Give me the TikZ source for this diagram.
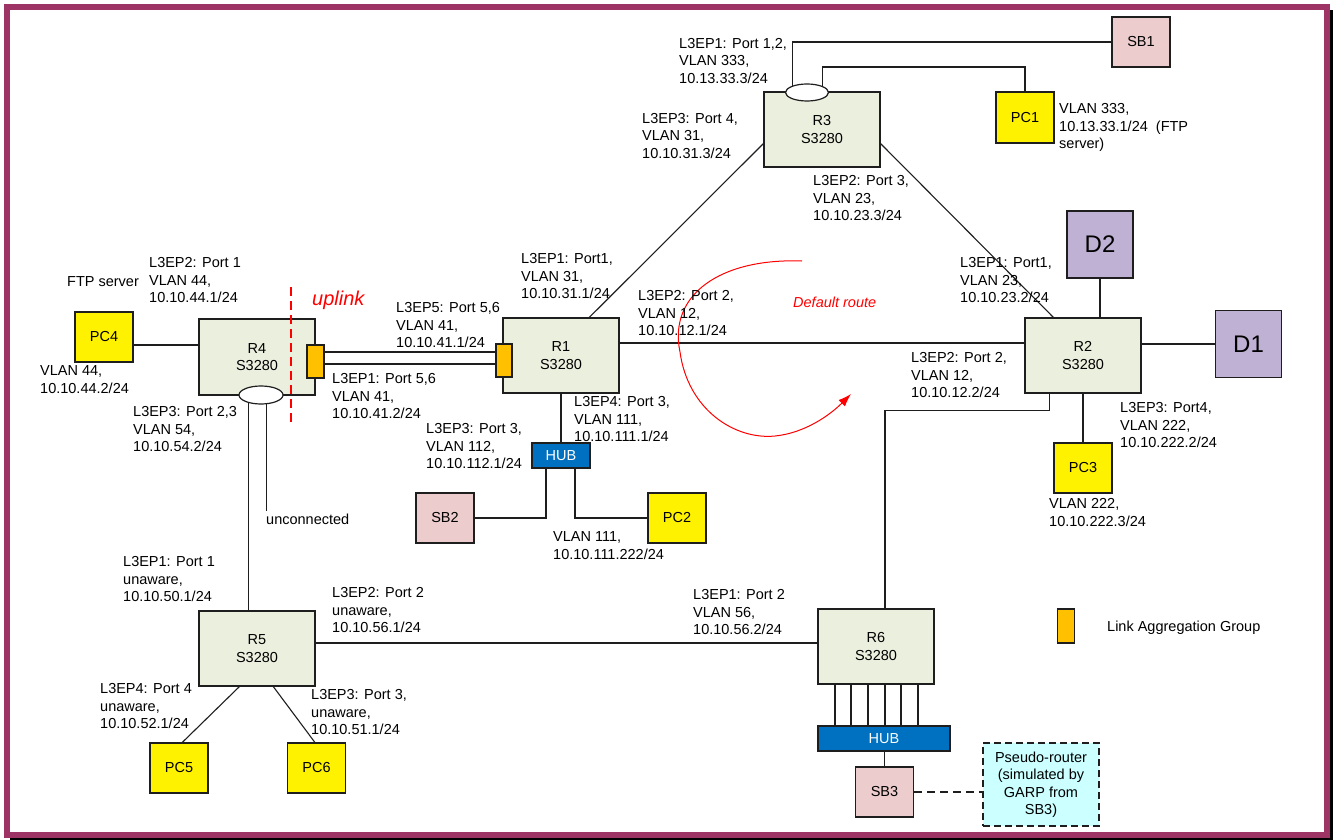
\documentclass[tikz,border=0pt]{standalone}
\usepackage{fontspec}
\setmainfont{Liberation Sans}
\usetikzlibrary{calc,shapes.geometric,arrows.meta}
\definecolor{frame}{RGB}{158,51,102}
\definecolor{rtr}{RGB}{235,239,222}
\definecolor{sbc}{RGB}{236,204,204}
\definecolor{devc}{RGB}{191,177,212}
\definecolor{hubc}{RGB}{0,112,192}
\definecolor{lagc}{RGB}{255,192,0}
\definecolor{pseudoc}{RGB}{204,255,255}
\definecolor{ln}{RGB}{30,30,30}
\definecolor{redc}{RGB}{255,0,0}
\begin{document}
\begin{tikzpicture}[x=1pt,y=-1pt,
  box/.style={draw=ln, line width=1.3pt, align=center, inner sep=0pt, font=\fontsize{14.5}{17.5}\selectfont},
  router/.style={box, fill=rtr, minimum width=116pt, minimum height=75pt},
  pcbox/.style={box, fill=yellow, minimum width=58pt, minimum height=50pt},
  sbbox/.style={box, fill=sbc, minimum width=58pt, minimum height=50pt},
  devbox/.style={box, fill=devc, minimum width=66pt, minimum height=67pt, font=\fontsize{24}{28}\selectfont},
  hubbox/.style={box, fill=hubc, text=white, minimum height=25pt},
  lagbox/.style={draw=ln, line width=1.2pt, fill=lagc, minimum width=16pt, minimum height=33pt, inner sep=0pt},
  portell/.style={ellipse, draw=ln, line width=1.2pt, fill=white, inner sep=0pt},
  lbl/.style={anchor=north west, align=left, inner sep=0pt, font=\fontsize{14.5}{17.5}\selectfont},
  wire/.style={draw=ln, line width=1.1pt},
  redlbl/.style={anchor=base west, inner sep=0pt, text=redc},
]
\useasboundingbox (0,0) rectangle (1333,840);
\fill[black] (10,10) rectangle (1333,840);
\draw[frame, line width=6pt, fill=white] (7,7) rectangle (1327,835);

% devices
\node[router] (R3) at (822,129.5) {R3\\S3280};
\node[router] (R1) at (561,355.5) {R1\\S3280};
\node[router, minimum height=76pt] (R4) at (257,357) {R4\\S3280};
\node[router] (R2) at (1083,355.5) {R2\\S3280};
\node[router] (R5) at (257,648.5) {R5\\S3280};
\node[router] (R6) at (876,646.5) {R6\\S3280};
\node[sbbox] (SB1) at (1141,42) {SB1};
\node[pcbox, minimum height=51pt] (PC1) at (1025,117.5) {PC1};
\node[pcbox] (PC4) at (104,337) {PC4};
\node[sbbox] (SB2) at (445,518) {SB2};
\node[pcbox] (PC2) at (677,518) {PC2};
\node[pcbox] (PC3) at (1083,468) {PC3};
\node[pcbox] (PC5) at (179,768) {PC5};
\node[pcbox] (PC6) at (316.5,768) {PC6};
\node[sbbox] (SB3) at (884.5,792) {SB3};
\node[devbox] (D2) at (1100,244.5) {D2};
\node[devbox] (D1) at (1248.5,344) {D1};
\node[hubbox, minimum width=58pt] (HUB1) at (561,455.5) {HUB};
\node[hubbox, minimum width=132pt] (HUB2) at (884,738.5) {HUB};
\node[lagbox, minimum width=17pt] (LAG4) at (315.5,361.5) {};
\node[lagbox] (LAG1) at (504,360.5) {};
\node[lagbox, minimum width=17pt, minimum height=34pt] (LAGL) at (1066,626) {};
\node[box, dash pattern=on 7pt off 4pt, fill=pseudoc, minimum width=116pt, minimum height=83pt] (PS) at (1041,784.5) {Pseudo-router\\(simulated by\\GARP from\\SB3)};
\node[portell, minimum width=43pt, minimum height=17pt] (E3) at (807,92.5) {};
\node[portell, minimum width=44pt, minimum height=18pt] (E4) at (261,395) {};

% connectors
\coordinate (pc1turn) at (1025,67);
\draw[wire] (E3.155) |- (SB1.west);
\draw[wire] (E3.22) |- (pc1turn) -- (PC1.north);
\draw[wire] ($(R3.south west)+(0,-24)$) -- ($(R1.north west)+(87,0)$);
\draw[wire] ($(R3.south east)+(0,-24)$) -- ($(R2.north west)+(29,0)$);
\draw[wire] (PC4.east |- 0,345) -- (R4.west |- 0,345);
\draw[wire] (LAG4.east |- 0,352) -- (LAG1.west |- 0,352);
\draw[wire] (LAG4.east |- 0,364) -- (LAG1.west |- 0,364);
\draw[wire] (E4.212) -- (E4.212 |- R5.north);
\coordinate (unc) at (266,511);
\draw[wire] (E4.300) -- (E4.300 |- unc);
\draw[wire] (R1.south) -- (HUB1.north);
\draw[wire] ($(HUB1.south)+(-15,0)$) |- (SB2.east);
\draw[wire] ($(HUB1.south)+(14,0)$) |- (PC2.west);
\draw[wire] (R1.east |- 0,343) -- (R2.west |- 0,343);
\draw[wire] (D2.south) -- (D2.south |- R2.north);
\draw[wire] (R2.east |- D1.west) -- (D1.west);
\draw[wire] (R2.south) -- (PC3.north);
\draw[wire] ($(R2.south west)+(25,0)$) -- ++(0,17) -| ($(R6.north)+(9,0)$);
\draw[wire] (R5.east |- 0,643) -- (R6.west |- 0,643);
\draw[wire] ($(R5.south west)+(41,0)$) -- ($(PC5.north west)+(33,0)$);
\draw[wire] ($(R5.south west)+(75,0)$) -- ($(PC6.north west)+(28,0)$);
\foreach \hx in {835,851,868,885,901,918} \draw[wire] (\hx,0 |- R6.south) -- (\hx,0 |- HUB2.north);
\draw[wire] (SB3.north |- HUB2.south) -- (SB3.north);
\draw[wire, dash pattern=on 8pt off 5pt] (SB3.east) -- (PS.west |- SB3.east);

% red marks
\coordinate (dtop) at (291,287);
\coordinate (dbot) at (291,423);
\draw[draw=redc, line width=1.3pt, dash pattern=on 9pt off 5pt] (dtop) -- (dbot);
\draw[draw=redc, line width=1pt, -{Latex[length=13pt,width=9pt,fill=redc]}] (802,261) .. controls (720,258) and (668,295) .. (680,352) .. controls (688,410) and (735,440) .. (775,436) .. controls (805,433) and (830,415) .. (851,394);
\node[redlbl, font=\fontsize{20}{24}\selectfont\itshape] (uplink) at (312,305) {uplink};
\node[redlbl, font=\fontsize{14.5}{17.5}\selectfont\itshape] (defr) at (793,307) {Default route};

% labels
\node[lbl] (l1) at (679,38) {L3EP1: Port 1,2,\\VLAN 333,\\10.13.33.3/24};
\node[lbl] (l2) at (642,113) {L3EP3: Port 4,\\VLAN 31,\\10.10.31.3/24};
\node[lbl] (l3) at (813,175.5) {L3EP2: Port 3,\\VLAN 23,\\10.10.23.3/24};
\node[lbl] (l4) at (1059,103.5) {VLAN 333,\\10.13.33.1/24~~(FTP\\server)};
\node[lbl] (l5) at (67,276.5) {FTP server};
\node[lbl] (l6) at (149,257.5) {L3EP2: Port 1\\VLAN 44,\\10.10.44.1/24};
\node[lbl] (l7) at (40,365.5) {VLAN 44,\\10.10.44.2/24};
\node[lbl] (l8) at (133,406.5) {L3EP3: Port 2,3\\VLAN 54,\\10.10.54.2/24};
\node[lbl] (l9) at (396,302.5) {L3EP5: Port 5,6\\VLAN 41,\\10.10.41.1/24};
\node[lbl] (l10) at (332,373.5) {L3EP1: Port 5,6\\VLAN 41,\\10.10.41.2/24};
\node[lbl] (l11) at (426,423.5) {L3EP3: Port 3,\\VLAN 112,\\10.10.112.1/24};
\node[lbl] (l12) at (521,253.5) {L3EP1: Port1,\\VLAN 31,\\10.10.31.1/24};
\node[lbl] (l13) at (638,290.5) {L3EP2: Port 2,\\VLAN 12,\\10.10.12.1/24};
\node[lbl] (l14) at (574,396.5) {L3EP4: Port 3,\\VLAN 111,\\10.10.111.1/24};
\node[lbl] (l15) at (553,531.5) {VLAN 111,\\10.10.111.222/24};
\node[lbl] (l16) at (960,257.5) {L3EP1: Port1,\\VLAN 23,\\10.10.23.2/24};
\node[lbl] (l17) at (911,352.5) {L3EP2: Port 2,\\VLAN 12,\\10.10.12.2/24};
\node[lbl] (l18) at (1120,402.5) {L3EP3: Port4,\\VLAN 222,\\10.10.222.2/24};
\node[lbl] (l19) at (1049,498.5) {VLAN 222,\\10.10.222.3/24};
\node[lbl] (l20) at (123,556.5) {L3EP1: Port 1\\unaware,\\10.10.50.1/24};
\node[lbl] (l21) at (332,587.5) {L3EP2: Port 2\\unaware,\\10.10.56.1/24};
\node[lbl] (l22) at (100,683.5) {L3EP4: Port 4\\unaware,\\10.10.52.1/24};
\node[lbl] (l23) at (311,689.5) {L3EP3: Port 3,\\unaware,\\10.10.51.1/24};
\node[lbl] (l24) at (693,589.5) {L3EP1: Port 2\\VLAN 56,\\10.10.56.2/24};
\node[lbl] (l25) at (1107,620.5) {Link Aggregation Group};
\node[lbl] (l26) at (266,513.5) {unconnected};
\end{tikzpicture}
\end{document}
